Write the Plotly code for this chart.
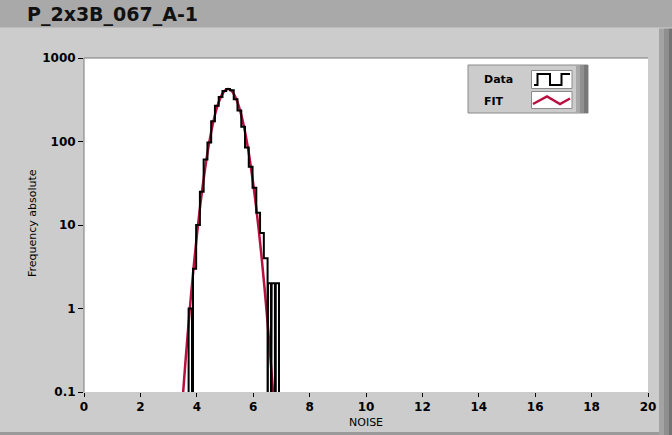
import plotly.graph_objects as go

# ---------------- data ----------------
# NOISE histogram: bin edges and absolute frequencies (0 = empty bin)
bin_edges = [3.71, 3.83, 3.865, 3.977, 4.11, 4.243, 4.377, 4.51, 4.643, 4.777,
             4.91, 5.043, 5.177, 5.31, 5.443, 5.577, 5.71, 5.843, 5.977, 6.11,
             6.243, 6.377, 6.51, 6.525, 6.63, 6.655, 6.77, 6.80, 6.915]
counts = [1, 0, 3, 10, 25, 61, 97, 175, 268, 340, 402, 425, 410, 320, 235,
          150, 85, 50, 28, 14, 8, 4, 0, 2, 0, 2, 0, 2]

# Gaussian FIT curve sampled values
fit_x = [3.4, 3.5, 3.6, 3.7, 3.8, 3.9, 4.0, 4.1, 4.2, 4.3, 4.4, 4.5, 4.6, 4.7,
         4.8, 4.9, 5.0, 5.1, 5.2, 5.3, 5.4, 5.5, 5.6, 5.7, 5.8, 5.9, 6.0, 6.1,
         6.2, 6.3, 6.4, 6.5, 6.6, 6.7, 6.8]
fit_y = [0.0284, 0.0847, 0.236, 0.616, 1.51, 3.45, 7.41, 14.9, 27.9, 49.2,
         81.1, 125, 181, 245, 310, 368, 408, 425, 414, 377, 322, 258, 193, 135,
         88.8, 54.6, 31.4, 16.9, 8.55, 4.04, 1.79, 0.742, 0.287, 0.104, 0.0355]

x_ticks = [0, 2, 4, 6, 8, 10, 12, 14, 16, 18, 20]
y_ticks = [0.1, 1, 10, 100, 1000]
y_tick_text = ["0.1", "1", "10", "100", "1000"]

title_text = "P_2x3B_067_A-1"
x_title = "NOISE"
y_title = "Frequency absolute"
legend_names = ["Data", "FIT"]

# ---------------- styling / layout ----------------
W, H = 672, 435
L, R, T, B = 84, 24, 58, 43
PW, PH = W - L - R, H - T - B
FLOOR = 1e-3
DATA_COLOR = "#000000"
FIT_COLOR = "#b8103f"
PANEL = "#cccccc"
BAR = "#a9a9a9"
FONT = "DejaVu Sans"


def px(xp):
    return (xp - L) / PW


def py(yp):
    return (H - B - yp) / PH


# step line for histogram
sx, sy = [bin_edges[0]], [FLOOR]
for i, c in enumerate(counts):
    v = c if c > 0 else FLOOR
    sx += [bin_edges[i], bin_edges[i + 1]]
    sy += [v, v]
sx.append(bin_edges[-1])
sy.append(FLOOR)

fig = go.Figure()
fig.add_trace(go.Scatter(x=fit_x, y=fit_y, mode="lines", name=legend_names[1],
                         line=dict(color=FIT_COLOR, width=2.5, shape="spline"),
                         showlegend=False, hoverinfo="skip"))
fig.add_trace(go.Scatter(x=sx, y=sy, mode="lines", name=legend_names[0],
                         line=dict(color=DATA_COLOR, width=2),
                         showlegend=False, hoverinfo="skip"))

shapes = []
# title bar
shapes.append(dict(type="rect", xref="paper", yref="paper", x0=px(0), x1=px(W),
                   y0=py(0), y1=py(27.5), fillcolor=BAR, line=dict(width=0), layer="above"))
# right 3D stripe
for (a, b, col) in [(659, 664, "#a3a3a3"), (664, 669, "#8e8e8e"), (669, 672, "#737373")]:
    shapes.append(dict(type="rect", xref="paper", yref="paper", x0=px(a), x1=px(b),
                       y0=py(28.5), y1=py(H), fillcolor=col, line=dict(width=0), layer="above"))
# bottom edge
shapes.append(dict(type="rect", xref="paper", yref="paper", x0=px(0), x1=px(659),
                   y0=py(432), y1=py(H), fillcolor="#9a9a9a", line=dict(width=0), layer="above"))
# plot border top/left (inset)
shapes.append(dict(type="line", xref="paper", yref="paper", x0=0, x1=1, y0=1, y1=1,
                   line=dict(color="#7a7a7a", width=1), layer="above"))
shapes.append(dict(type="line", xref="paper", yref="paper", x0=0, x1=0, y0=0, y1=1,
                   line=dict(color="#7a7a7a", width=1), layer="above"))

# legend panel
shapes.append(dict(type="rect", xref="paper", yref="paper", x0=px(468), x1=px(588),
                   y0=py(113), y1=py(65), fillcolor=PANEL,
                   line=dict(color="#8a8a8a", width=1), layer="above"))
for (a, b, col) in [(576, 580, "#a8a8a8"), (580, 584, "#909090"), (584, 588, "#787878")]:
    shapes.append(dict(type="rect", xref="paper", yref="paper", x0=px(a), x1=px(b),
                       y0=py(113), y1=py(65), fillcolor=col, line=dict(width=0), layer="above"))
for (y0, y1) in [(70.5, 88.5), (91.5, 108.5)]:
    shapes.append(dict(type="rect", xref="paper", yref="paper", x0=px(531.5), x1=px(572),
                       y0=py(y1), y1=py(y0), fillcolor="#ffffff",
                       line=dict(color="#8a8a8a", width=1), layer="above"))


def path(points):
    s = "M " + " L ".join(f"{px(a):.5f},{py(b):.5f}" for a, b in points)
    return s


shapes.append(dict(type="path", xref="paper", yref="paper",
                   path=path([(534, 85), (537.5, 85), (537.5, 74), (550, 74), (550, 85),
                              (561.5, 85), (561.5, 74), (570, 74)]),
                   line=dict(color=DATA_COLOR, width=2), layer="above"))
shapes.append(dict(type="path", xref="paper", yref="paper",
                   path=path([(533, 104), (547, 96.5), (560, 104), (570, 98.5)]),
                   line=dict(color=FIT_COLOR, width=2.5), layer="above"))

annotations = [
    dict(text=title_text, xref="paper", yref="paper", x=px(25), y=py(14.5),
         xanchor="left", yanchor="middle", showarrow=False,
         font=dict(family=FONT, size=19, color="#111111", weight="bold")),
    dict(text=x_title, xref="paper", yref="paper", x=px(366), y=py(422),
         xanchor="center", yanchor="middle", showarrow=False,
         font=dict(family=FONT, size=11, color="#000000")),
    dict(text=y_title, xref="paper", yref="paper", x=px(33), y=py(223),
         xanchor="center", yanchor="middle", showarrow=False, textangle=-90,
         font=dict(family=FONT, size=11, color="#000000")),
    dict(text=legend_names[0], xref="paper", yref="paper", x=px(482), y=py(80),
         xanchor="left", yanchor="middle", showarrow=False,
         font=dict(family=FONT, size=11, color="#000000", weight="bold")),
    dict(text=legend_names[1], xref="paper", yref="paper", x=px(482), y=py(101.5),
         xanchor="left", yanchor="middle", showarrow=False,
         font=dict(family=FONT, size=11, color="#000000", weight="bold")),
]

fig.update_layout(
    width=W, height=H,
    margin=dict(l=L, r=R, t=T, b=B, pad=0),
    paper_bgcolor=PANEL, plot_bgcolor="#ffffff",
    shapes=shapes, annotations=annotations,
    showlegend=False,
    xaxis=dict(range=[0, 20], tickvals=x_ticks, ticks="outside", ticklen=4,
               tickcolor="#000000", tickwidth=1, showgrid=False, zeroline=False,
               showline=False, fixedrange=True,
               tickfont=dict(family=FONT, size=12, color="#000000", weight="bold")),
    yaxis=dict(type="log", range=[-1, 3], tickvals=y_ticks, ticktext=y_tick_text,
               ticks="outside", ticklen=5, tickcolor="#000000", tickwidth=1,
               showgrid=False, zeroline=False, showline=False, fixedrange=True,
               tickfont=dict(family=FONT, size=12, color="#000000", weight="bold")),
)

fig.write_html("out.html", config={"displayModeBar": False},
               post_script="document.body.style.margin='0';document.body.style.overflow='hidden';")
